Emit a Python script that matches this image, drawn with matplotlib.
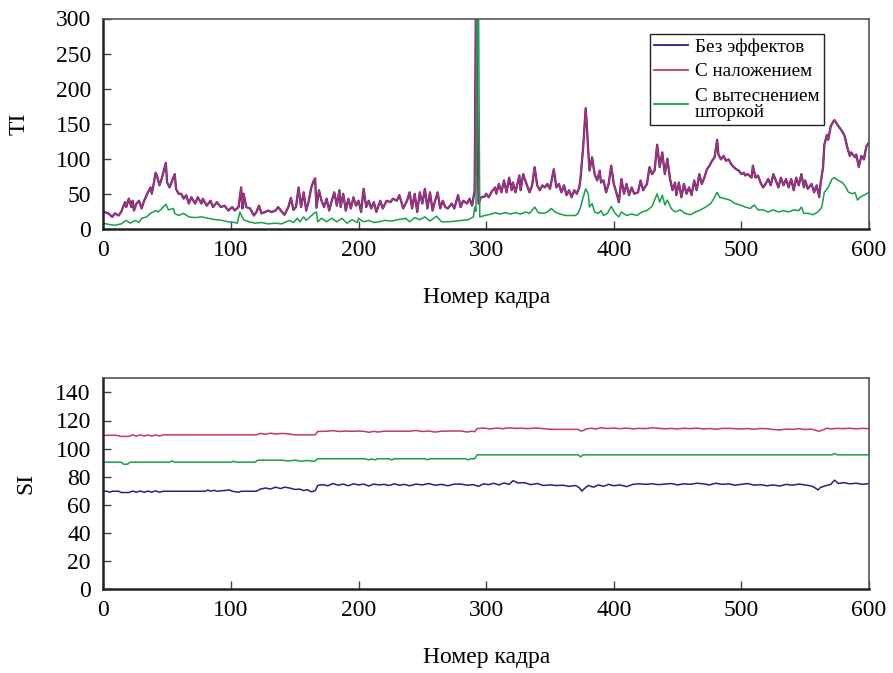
import matplotlib
matplotlib.use("Agg")
import matplotlib.pyplot as plt
import numpy as np

plt.rcParams["font.family"] = ["Liberation Serif", "DejaVu Serif"]

# ---- TI, frame -> value (overlay and no-effect curves coincide) ----
ti_overlay_pts = [
    (0, 25), (1, 24), (4, 22), (7, 17), (9, 22), (12, 19), (14, 24), (17, 38), (18, 31), (20, 43),
    (22, 31), (23, 40), (24, 26), (26, 36), (28, 40), (30, 29), (32, 40), (35, 52), (37, 59), (38, 50),
    (39, 59), (41, 80), (42, 76), (44, 62), (46, 73), (47, 80), (49, 94), (50, 66), (52, 59), (54, 69),
    (56, 78), (57, 57), (59, 50), (61, 50), (63, 43), (65, 48), (67, 36), (69, 45), (72, 36), (74, 45),
    (77, 36), (78, 43), (81, 33), (84, 40), (86, 31), (89, 38), (92, 31), (95, 33), (98, 26), (101, 31),
    (103, 26), (106, 31), (108, 59), (109, 29), (110, 50), (112, 31), (115, 29), (118, 19), (120, 24),
    (122, 33), (124, 22), (127, 24), (129, 26), (132, 24), (135, 26), (137, 31), (140, 24), (142, 20),
    (145, 31), (147, 44), (149, 27), (151, 31), (153, 59), (155, 31), (157, 52), (159, 26), (161, 40),
    (163, 59), (165, 69), (166, 72), (167, 30), (169, 55), (171, 40), (173, 31), (175, 43), (177, 26),
    (179, 40), (181, 52), (183, 33), (185, 55), (186, 31), (188, 50), (190, 26), (192, 43), (194, 29),
    (196, 45), (198, 33), (200, 40), (202, 24), (204, 57), (206, 31), (208, 40), (210, 29), (212, 38),
    (214, 24), (217, 40), (219, 29), (222, 40), (225, 38), (227, 43), (230, 40), (232, 48), (235, 29),
    (238, 40), (240, 52), (242, 29), (244, 50), (246, 24), (248, 52), (250, 36), (252, 57), (254, 29),
    (256, 52), (258, 26), (260, 40), (262, 52), (264, 29), (266, 40), (268, 31), (270, 29), (273, 36),
    (275, 29), (278, 48), (280, 31), (282, 40), (285, 36), (287, 43), (289, 33), (291, 55), (292, 330),
    (294, 36), (296, 45), (299, 46), (300, 50), (302, 45), (304, 52), (307, 59), (308, 50), (310, 64),
    (312, 52), (314, 69), (316, 52), (318, 73), (320, 55), (321, 66), (323, 52), (326, 76), (327, 55),
    (329, 78), (332, 62), (334, 52), (336, 62), (338, 88), (340, 62), (342, 55), (344, 62), (346, 59),
    (348, 64), (350, 57), (353, 85), (355, 59), (357, 64), (359, 52), (361, 62), (363, 48), (365, 55),
    (367, 45), (369, 55), (371, 50), (373, 59), (374, 73), (376, 116), (378, 172), (379, 144), (380, 111),
    (381, 83), (383, 102), (385, 78), (387, 69), (389, 83), (390, 66), (392, 69), (394, 52), (396, 64),
    (398, 90), (400, 64), (402, 52), (404, 38), (406, 71), (408, 50), (410, 64), (412, 48), (414, 59),
    (416, 50), (419, 52), (421, 69), (423, 55), (426, 64), (428, 88), (430, 78), (432, 83), (434, 120),
    (436, 88), (438, 109), (440, 78), (442, 100), (444, 72), (446, 55), (448, 66), (449, 48), (451, 66),
    (453, 45), (455, 64), (457, 50), (459, 59), (461, 48), (463, 69), (465, 55), (467, 78), (469, 64),
    (471, 73), (473, 85), (475, 90), (477, 97), (479, 102), (481, 127), (482, 106), (484, 99), (486, 104),
    (488, 97), (490, 99), (492, 92), (494, 88), (496, 85), (498, 83), (500, 78), (502, 80), (503, 76),
    (505, 78), (508, 73), (509, 90), (511, 73), (513, 76), (515, 66), (517, 59), (519, 64), (521, 71),
    (523, 62), (525, 78), (527, 69), (529, 59), (531, 73), (533, 62), (535, 71), (537, 59), (539, 71),
    (541, 55), (543, 73), (545, 62), (547, 78), (549, 59), (550, 69), (552, 57), (555, 64), (557, 52),
    (559, 62), (561, 45), (562, 64), (564, 88), (565, 120), (567, 134), (568, 127), (570, 146), (572, 153),
    (573, 155), (575, 149), (577, 144), (579, 139), (581, 132), (583, 116), (585, 104), (586, 109),
    (589, 102), (590, 106), (592, 88), (594, 104), (596, 99), (598, 118), (600, 123),
]
ti_plain_pts = list(ti_overlay_pts)

ti_wipe_pts = [
    (0, 8), (5, 6), (9, 5), (14, 7), (18, 12), (21, 8), (25, 12), (28, 9), (30, 15), (34, 17), (37, 22),
    (41, 26), (43, 24), (46, 29), (49, 35), (51, 27), (55, 29), (56, 22), (59, 19), (63, 22), (67, 17),
    (72, 16), (77, 17), (82, 15), (88, 13), (93, 12), (98, 10), (103, 9), (105, 8), (107, 24), (110, 13),
    (114, 10), (119, 8), (124, 9), (129, 7), (135, 8), (140, 7), (142, 9), (146, 12), (149, 9), (152, 15),
    (154, 10), (157, 17), (159, 12), (162, 17), (165, 22), (167, 24), (168, 10), (171, 15), (175, 10),
    (179, 15), (183, 10), (187, 15), (191, 8), (195, 13), (199, 9), (200, 15), (204, 10), (208, 12),
    (212, 9), (216, 10), (221, 12), (226, 11), (231, 13), (237, 15), (240, 10), (244, 16), (248, 13),
    (252, 17), (256, 11), (261, 18), (265, 10), (270, 10), (276, 11), (281, 12), (286, 13), (290, 17),
    (291, 31), (292, 25), (293, 330), (294, 330), (295, 17), (299, 19), (304, 21), (307, 23), (311, 21),
    (315, 23), (319, 21), (323, 23), (327, 21), (331, 24), (334, 22), (338, 31), (341, 23), (345, 22),
    (348, 24), (351, 29), (354, 24), (358, 21), (362, 19), (366, 19), (370, 19), (372, 22), (374, 31),
    (376, 45), (378, 57), (380, 50), (381, 31), (383, 36), (385, 24), (388, 22), (390, 26), (392, 19),
    (395, 22), (398, 32), (401, 22), (404, 17), (406, 24), (410, 19), (414, 21), (418, 19), (422, 24),
    (426, 26), (430, 32), (434, 50), (436, 38), (438, 48), (440, 34), (442, 41), (445, 29), (448, 24),
    (452, 27), (456, 22), (460, 20), (464, 24), (468, 27), (472, 31), (476, 36), (479, 45), (481, 52),
    (483, 45), (487, 43), (491, 41), (495, 36), (499, 34), (503, 31), (507, 29), (510, 34), (513, 27),
    (517, 27), (521, 24), (525, 27), (529, 24), (533, 26), (537, 24), (541, 27), (545, 26), (547, 31),
    (549, 22), (553, 22), (556, 20), (560, 24), (563, 31), (565, 52), (568, 59), (571, 71), (573, 73),
    (576, 69), (579, 66), (581, 62), (584, 52), (587, 50), (589, 52), (591, 41), (593, 45), (596, 48),
    (600, 52),
]

# ---- SI, frame -> value ----
si_plain_pts = [
    (0, 69.7), (3, 69.7), (5, 69.0), (7, 69.7), (12, 69.7), (14, 68.8), (20, 68.8), (23, 69.8), (26, 69.0),
    (29, 69.9), (32, 69.0), (35, 69.8), (38, 69.1), (41, 70.0), (44, 69.0), (47, 69.7), (80, 69.7),
    (82, 70.6), (84, 69.7), (87, 70.4), (89, 69.7), (99, 70.6), (101, 69.7), (106, 69.0), (108, 69.7),
    (120, 69.7), (123, 71.2), (127, 72.0), (131, 71.3), (135, 72.6), (139, 71.6), (142, 72.6), (146, 72.0),
    (150, 71.0), (154, 71.2), (157, 70.2), (160, 70.8), (163, 69.3), (166, 70.0), (168, 73.8), (172, 74.4),
    (176, 73.6), (180, 75.2), (184, 74.0), (188, 74.8), (192, 73.6), (196, 75.0), (200, 74.2), (204, 74.8),
    (208, 73.4), (212, 74.8), (216, 74.2), (220, 74.6), (224, 73.8), (228, 75.0), (232, 74.0), (236, 74.6),
    (240, 73.6), (245, 74.8), (250, 74.2), (255, 75.2), (260, 74.0), (265, 74.6), (270, 73.6), (275, 74.8),
    (280, 74.8), (285, 74.0), (290, 74.4), (294, 73.2), (298, 75.0), (302, 74.4), (306, 75.4), (310, 74.2),
    (314, 75.6), (318, 74.6), (321, 77.2), (325, 75.6), (330, 75.8), (335, 74.4), (340, 75.2), (345, 73.8),
    (350, 74.2), (355, 73.8), (360, 74.0), (365, 73.2), (370, 73.8), (373, 72.2), (375, 69.8), (377, 71.6),
    (380, 73.8), (384, 72.6), (388, 74.2), (392, 73.2), (396, 74.6), (400, 73.6), (405, 74.2), (410, 73.0),
    (415, 74.6), (420, 75.0), (425, 74.6), (430, 75.0), (435, 74.4), (440, 74.8), (445, 75.2), (450, 74.2),
    (455, 75.0), (460, 74.6), (465, 75.4), (470, 75.0), (475, 74.2), (480, 75.4), (485, 74.6), (490, 75.0),
    (495, 74.0), (500, 74.6), (505, 75.2), (510, 74.0), (515, 74.4), (520, 73.6), (525, 74.2), (530, 73.4),
    (535, 74.6), (540, 74.0), (545, 74.8), (550, 74.2), (555, 73.4), (558, 72.0), (560, 70.6), (562, 72.4),
    (566, 73.6), (570, 74.6), (573, 77.6), (576, 75.2), (580, 75.8), (585, 75.0), (590, 75.4), (595, 74.6),
    (600, 75.2),
]

si_overlay_pts = [
    (0, 109.5), (10, 109.5), (14, 108.7), (20, 108.7), (23, 109.8), (26, 108.9), (29, 109.8), (32, 109.0),
    (35, 109.7), (38, 108.9), (41, 109.8), (44, 109.0), (47, 109.8), (120, 109.8), (123, 110.8), (127, 110.2),
    (131, 111.0), (135, 110.4), (140, 110.8), (145, 110.5), (150, 109.8), (166, 109.8), (168, 112.2),
    (175, 112.4), (180, 112.8), (185, 112.2), (190, 112.5), (195, 112.3), (200, 112.5), (205, 112.2),
    (208, 111.6), (212, 112.3), (215, 111.8), (220, 112.4), (240, 112.4), (245, 112.9), (250, 112.2),
    (255, 112.5), (260, 111.8), (265, 112.4), (280, 112.6), (285, 111.8), (289, 112.4), (291, 112.0),
    (293, 114.3), (298, 114.6), (303, 114.0), (308, 114.6), (313, 114.2), (318, 114.8), (323, 114.4),
    (328, 114.5), (333, 114.2), (338, 114.7), (343, 114.4), (348, 113.9), (354, 113.7), (372, 113.7),
    (374, 112.6), (376, 112.8), (378, 113.9), (382, 114.5), (386, 114.0), (390, 114.8), (395, 114.3),
    (400, 114.6), (405, 114.2), (410, 114.6), (415, 114.1), (420, 114.4), (425, 114.2), (430, 114.8),
    (435, 114.5), (440, 114.1), (445, 114.4), (450, 114.0), (455, 114.5), (460, 114.2), (465, 114.6),
    (470, 114.0), (475, 114.3), (480, 113.8), (485, 114.4), (490, 114.4), (500, 114.0), (505, 114.3),
    (510, 113.8), (515, 114.3), (520, 114.2), (525, 113.6), (530, 113.3), (535, 113.9), (540, 113.7),
    (545, 114.2), (550, 113.6), (555, 113.9), (558, 113.0), (561, 112.4), (564, 113.3), (567, 114.5),
    (570, 114.0), (575, 114.4), (580, 114.2), (585, 114.5), (590, 114.1), (595, 114.4), (600, 114.2),
]

si_wipe_pts = [
    (0, 90.4), (14, 90.4), (16, 88.9), (19, 88.9), (21, 90.4), (52, 90.4), (54, 91.2), (56, 90.4),
    (100, 90.4), (102, 91.0), (104, 90.4), (119, 90.4), (121, 91.8), (140, 91.8), (145, 91.2), (150, 91.8),
    (155, 91.0), (160, 91.6), (164, 91.0), (166, 91.2), (168, 92.8), (205, 92.8), (208, 92.0), (210, 92.6),
    (213, 92.1), (215, 92.8), (224, 92.8), (226, 91.9), (228, 92.8), (252, 92.8), (254, 92.1), (256, 92.8),
    (284, 92.8), (286, 92.0), (288, 92.8), (291, 92.8), (293, 95.6), (372, 95.6), (374, 94.2), (376, 95.6),
    (571, 95.6), (573, 96.5), (575, 95.6), (600, 95.6),
]

series_names = ["Без эффектов", "С наложением", "С вытеснением\nшторкой"]
series_colors = ["#2E1F85", "#C8356F", "#16A04C"]
x_ticks = [0, 100, 200, 300, 400, 500, 600]
ti_ticks = [0, 50, 100, 150, 200, 250, 300]
si_ticks = [0, 20, 40, 60, 80, 100, 120, 140]
x_label = "Номер кадра"


def unzip(pts):
    f, v = zip(*pts)
    return np.array(f), np.array(v)


W, H = 893, 673
fig = plt.figure(figsize=(W / 100, H / 100), dpi=100)

ax_l, ax_r = 103.3, 869.0
ax_ti = fig.add_axes([ax_l / W, 1 - 228.8 / H, (ax_r - ax_l) / W, 210.3 / H])
ax_si = fig.add_axes([ax_l / W, 1 - 589.3 / H, (ax_r - ax_l) / W, 211.0 / H])


def style_axes(ax, yticks, ylim, ylabel, ylab_x):
    ax.set_xlim(0, 600)
    ax.set_ylim(*ylim)
    ax.set_xticks(x_ticks)
    ax.set_yticks(yticks)
    ax.tick_params(direction="in", length=6, width=1, color="#444444",
                   labelsize=17, pad=9)
    ax.tick_params(axis="x", pad=8)
    for side in ("left", "bottom"):
        ax.spines[side].set_linewidth(1.8)
        ax.spines[side].set_color("#222222")
    for side in ("top", "right"):
        ax.spines[side].set_linewidth(1.2)
        ax.spines[side].set_color("#555555")
    ax.set_ylabel(ylabel, fontsize=17)
    ax.yaxis.set_label_coords(ylab_x, 0.5)
    ax.set_xlabel(x_label, fontsize=17)
    ax.xaxis.set_label_coords(0.5, -0.325)
    ax.xaxis.label.set_verticalalignment("center")


# TI panel
f, v = unzip(ti_plain_pts)
ax_ti.plot(f, v, color=series_colors[0], lw=1.6, label=series_names[0])
f, v = unzip(ti_overlay_pts)
ax_ti.plot(f, v, color=series_colors[1], lw=1.1, alpha=0.85, label=series_names[1])
f, v = unzip(ti_wipe_pts)
ax_ti.plot(f, v, color=series_colors[2], lw=1.1, label=series_names[2])
style_axes(ax_ti, ti_ticks, (0, 300), "TI", -0.096)

leg = ax_ti.legend(loc="upper right", bbox_to_anchor=(0.941, 0.926), fontsize=13.8,
                   frameon=True, fancybox=False, framealpha=1, edgecolor="#222222",
                   handlelength=1.8, handletextpad=0.35, labelspacing=0.38,
                   borderpad=0.22, borderaxespad=0)
leg.get_frame().set_linewidth(1.0)
for line in leg.get_lines():
    line.set_linewidth(1.3)
    line.set_alpha(1)
for txt in leg.get_texts():
    txt.set_linespacing(0.95)

# SI panel
f, v = unzip(si_plain_pts)
ax_si.plot(f, v, color=series_colors[0], lw=1.1)
f, v = unzip(si_overlay_pts)
ax_si.plot(f, v, color=series_colors[1], lw=1.1)
f, v = unzip(si_wipe_pts)
ax_si.plot(f, v, color=series_colors[2], lw=1.1)
style_axes(ax_si, si_ticks, (0, 150), "SI", -0.088)

fig.savefig("out.png", dpi=100)
